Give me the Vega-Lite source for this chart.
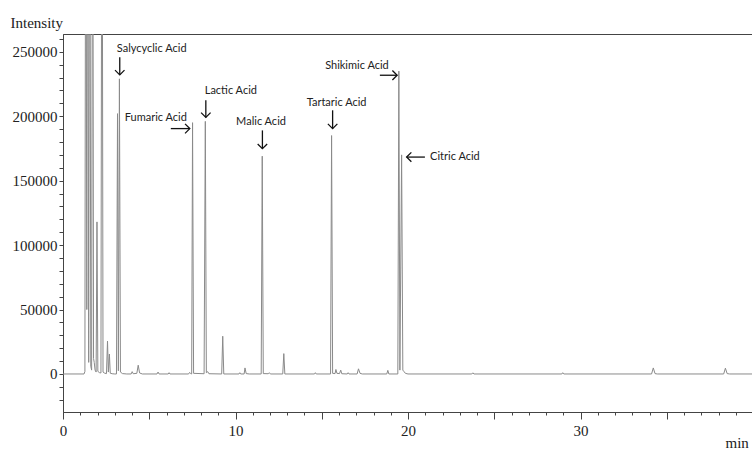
{
  "$schema": "https://vega.github.io/schema/vega-lite/v6.json",
  "autosize": {"type": "none"},
  "width": 690,
  "height": 378,
  "padding": {"left": 63, "top": 34, "right": 0, "bottom": 38},
  "background": "white",
  "config": {"view": {"stroke": "#444", "strokeWidth": 1}},
  "datasets": {
    "trace": [
      {"t": 0, "v": 0}, {"t": 1.22, "v": 0}, {"t": 1.27, "v": 2000}, {"t": 1.32, "v": 520000}, {"t": 1.38, "v": 50000},
      {"t": 1.43, "v": 520000}, {"t": 1.49, "v": 9000}, {"t": 1.55, "v": 520000}, {"t": 1.61, "v": 6000}, {"t": 1.66, "v": 3000},
      {"t": 1.72, "v": 520000}, {"t": 1.77, "v": 12000}, {"t": 1.81, "v": 9000}, {"t": 1.86, "v": 3000}, {"t": 1.92, "v": 1500},
      {"t": 1.97, "v": 118000}, {"t": 2.02, "v": 2000}, {"t": 2.12, "v": 1000}, {"t": 2.2, "v": 800}, {"t": 2.26, "v": 520000},
      {"t": 2.32, "v": 1500}, {"t": 2.42, "v": 600}, {"t": 2.52, "v": 300}, {"t": 2.58, "v": 25500}, {"t": 2.63, "v": 1500},
      {"t": 2.69, "v": 15500}, {"t": 2.74, "v": 600}, {"t": 2.85, "v": 200}, {"t": 3.0, "v": 0}, {"t": 3.1, "v": 0},
      {"t": 3.16, "v": 202000}, {"t": 3.21, "v": 2500}, {"t": 3.27, "v": 229000}, {"t": 3.33, "v": 1500}, {"t": 3.45, "v": 300},
      {"t": 3.7, "v": 0}, {"t": 3.95, "v": 0}, {"t": 4.01, "v": 1800}, {"t": 4.07, "v": 200}, {"t": 4.28, "v": 500},
      {"t": 4.36, "v": 6800}, {"t": 4.44, "v": 800}, {"t": 4.6, "v": 0}, {"t": 5.45, "v": 0}, {"t": 5.51, "v": 1500},
      {"t": 5.57, "v": 0}, {"t": 6.1, "v": 0}, {"t": 6.15, "v": 1000}, {"t": 6.2, "v": 0}, {"t": 7.28, "v": 0},
      {"t": 7.34, "v": 1200}, {"t": 7.4, "v": 300}, {"t": 7.46, "v": 0}, {"t": 7.51, "v": 195000}, {"t": 7.57, "v": 500},
      {"t": 8.18, "v": 200}, {"t": 8.25, "v": 196000}, {"t": 8.31, "v": 1000}, {"t": 8.39, "v": 1800}, {"t": 8.46, "v": 200},
      {"t": 9.2, "v": 0}, {"t": 9.26, "v": 29300}, {"t": 9.32, "v": 0}, {"t": 10.2, "v": 0}, {"t": 10.25, "v": 1000},
      {"t": 10.3, "v": 0}, {"t": 10.5, "v": 0}, {"t": 10.55, "v": 4700}, {"t": 10.62, "v": 300}, {"t": 10.8, "v": 0},
      {"t": 11.49, "v": 0}, {"t": 11.55, "v": 169000}, {"t": 11.61, "v": 300}, {"t": 11.9, "v": 200}, {"t": 11.96, "v": 1000},
      {"t": 12.02, "v": 0}, {"t": 12.74, "v": 0}, {"t": 12.8, "v": 15800}, {"t": 12.86, "v": 0}, {"t": 14.58, "v": 0},
      {"t": 14.63, "v": 1000}, {"t": 14.68, "v": 0}, {"t": 15.51, "v": 0}, {"t": 15.57, "v": 185000}, {"t": 15.63, "v": 500},
      {"t": 15.77, "v": 300}, {"t": 15.82, "v": 3500}, {"t": 15.88, "v": 500}, {"t": 16.03, "v": 300}, {"t": 16.1, "v": 3000},
      {"t": 16.16, "v": 200}, {"t": 16.48, "v": 0}, {"t": 16.53, "v": 1000}, {"t": 16.58, "v": 0}, {"t": 17.05, "v": 0},
      {"t": 17.13, "v": 4000}, {"t": 17.22, "v": 500}, {"t": 17.35, "v": 0}, {"t": 18.77, "v": 0}, {"t": 18.83, "v": 2800},
      {"t": 18.89, "v": 0}, {"t": 19.41, "v": 0}, {"t": 19.47, "v": 235000}, {"t": 19.53, "v": 3000}, {"t": 19.63, "v": 170000},
      {"t": 19.7, "v": 3000}, {"t": 19.76, "v": 2000}, {"t": 19.85, "v": 500}, {"t": 20.0, "v": 0}, {"t": 23.7, "v": 0},
      {"t": 23.76, "v": 900}, {"t": 23.82, "v": 0}, {"t": 28.92, "v": 0}, {"t": 28.97, "v": 1000}, {"t": 29.03, "v": 0},
      {"t": 34.12, "v": 0}, {"t": 34.22, "v": 4700}, {"t": 34.32, "v": 300}, {"t": 34.45, "v": 0}, {"t": 38.3, "v": 0},
      {"t": 38.4, "v": 4500}, {"t": 38.5, "v": 300}, {"t": 38.65, "v": 0}, {"t": 40, "v": 0}
    ],
    "labels": [
      {"label": "Salycyclic Acid", "t": 5.14, "v": 252000},
      {"label": "Fumaric Acid", "t": 5.38, "v": 199000},
      {"label": "Lactic Acid", "t": 9.73, "v": 219600},
      {"label": "Malic Acid", "t": 11.48, "v": 195500},
      {"label": "Tartaric Acid", "t": 15.86, "v": 210200},
      {"label": "Shikimic Acid", "t": 17.04, "v": 238700},
      {"label": "Citric Acid", "t": 22.72, "v": 168300}
    ],
    "arrows": [
      {"name": "Salycyclic Acid", "dir": "down", "t": 3.29, "v": 232100, "t2": 3.29, "v2": 245700},
      {"name": "Lactic Acid", "dir": "down", "t": 8.28, "v": 199100, "t2": 8.28, "v2": 212300},
      {"name": "Malic Acid", "dir": "down", "t": 11.56, "v": 174800, "t2": 11.56, "v2": 189000},
      {"name": "Tartaric Acid", "dir": "down", "t": 15.63, "v": 190400, "t2": 15.63, "v2": 204600},
      {"name": "Fumaric Acid", "dir": "right", "t": 7.35, "v": 190400, "t2": 6.25, "v2": 190400},
      {"name": "Shikimic Acid", "dir": "right", "t": 19.37, "v": 231800, "t2": 18.37, "v2": 231800},
      {"name": "Citric Acid", "dir": "left", "t": 19.92, "v": 168300, "t2": 20.98, "v2": 168300}
    ]
  },
  "encoding": {
    "x": {
      "field": "t", "type": "quantitative",
      "scale": {"domain": [0, 40], "nice": false, "zero": false},
      "axis": {
        "title": "min", "titleFont": "Liberation Serif", "titleFontSize": 15, "titleFontWeight": "normal", "titleColor": "#222",
        "titleX": 662, "titleY": 35, "titleAlign": "left", "titleBaseline": "alphabetic", "titleAnchor": "start",
        "values": [0,1,2,3,4,5,6,7,8,9,10,11,12,13,14,15,16,17,18,19,20,21,22,23,24,25,26,27,28,29,30,31,32,33,34,35,36,37,38,39],
        "labelExpr": "datum.value % 10 === 0 ? datum.label : ''",
        "tickSize": {"condition": {"test": "datum.value % 5 === 0", "value": 7}, "value": 3},
        "labelFont": "Liberation Serif", "labelFontSize": 15, "labelColor": "#222", "labelPadding": 4,
        "labelFlush": false, "labelOverlap": false, "labelBaseline": "top",
        "domainColor": "#444", "tickColor": "#444", "grid": false
      }
    },
    "y": {
      "field": "v", "type": "quantitative",
      "scale": {"domain": [-29500, 263800], "nice": false, "zero": false},
      "axis": {
        "title": "Intensity", "titleAngle": 0, "titleFont": "Liberation Serif", "titleFontSize": 15, "titleFontWeight": "normal", "titleColor": "#222",
        "titleX": -53, "titleY": -7, "titleAlign": "left", "titleBaseline": "alphabetic",
        "values": [-20000,-10000,0,10000,20000,30000,40000,50000,60000,70000,80000,90000,100000,110000,120000,130000,140000,150000,160000,170000,180000,190000,200000,210000,220000,230000,240000,250000,260000],
        "format": "d",
        "labelExpr": "datum.value % 50000 === 0 ? datum.label : ''",
        "tickSize": 4, "labelPadding": 2,
        "labelFont": "Liberation Serif", "labelFontSize": 15, "labelColor": "#222",
        "labelOverlap": false, "labelFlush": false,
        "domainColor": "#444", "tickColor": "#444", "grid": false
      }
    }
  },
  "layer": [
    {
      "data": {"name": "trace"},
      "mark": {"type": "line", "clip": true, "stroke": "#8a8a8a", "strokeWidth": 1, "interpolate": "linear"}
    },
    {
      "data": {"name": "arrows"},
      "mark": {"type": "rule", "stroke": "#111", "strokeWidth": 1.3},
      "encoding": {"x2": {"field": "t2"}, "y2": {"field": "v2"}}
    },
    {
      "data": {"name": "arrows"},
      "mark": {"type": "point", "filled": false, "stroke": "#111", "strokeWidth": 1.3, "opacity": 1, "size": 90},
      "encoding": {
        "shape": {
          "field": "dir", "type": "nominal", "legend": null,
          "scale": {"domain": ["down", "right", "left"], "range": ["M-1,-1L0,0L1,-1", "M-1,-1L0,0L-1,1", "M1,-1L0,0L1,1"]}
        }
      }
    },
    {
      "data": {"name": "labels"},
      "mark": {"type": "text", "font": "Lato", "fontSize": 11, "color": "#222", "align": "center", "baseline": "middle"},
      "encoding": {"text": {"field": "label"}}
    }
  ]
}
